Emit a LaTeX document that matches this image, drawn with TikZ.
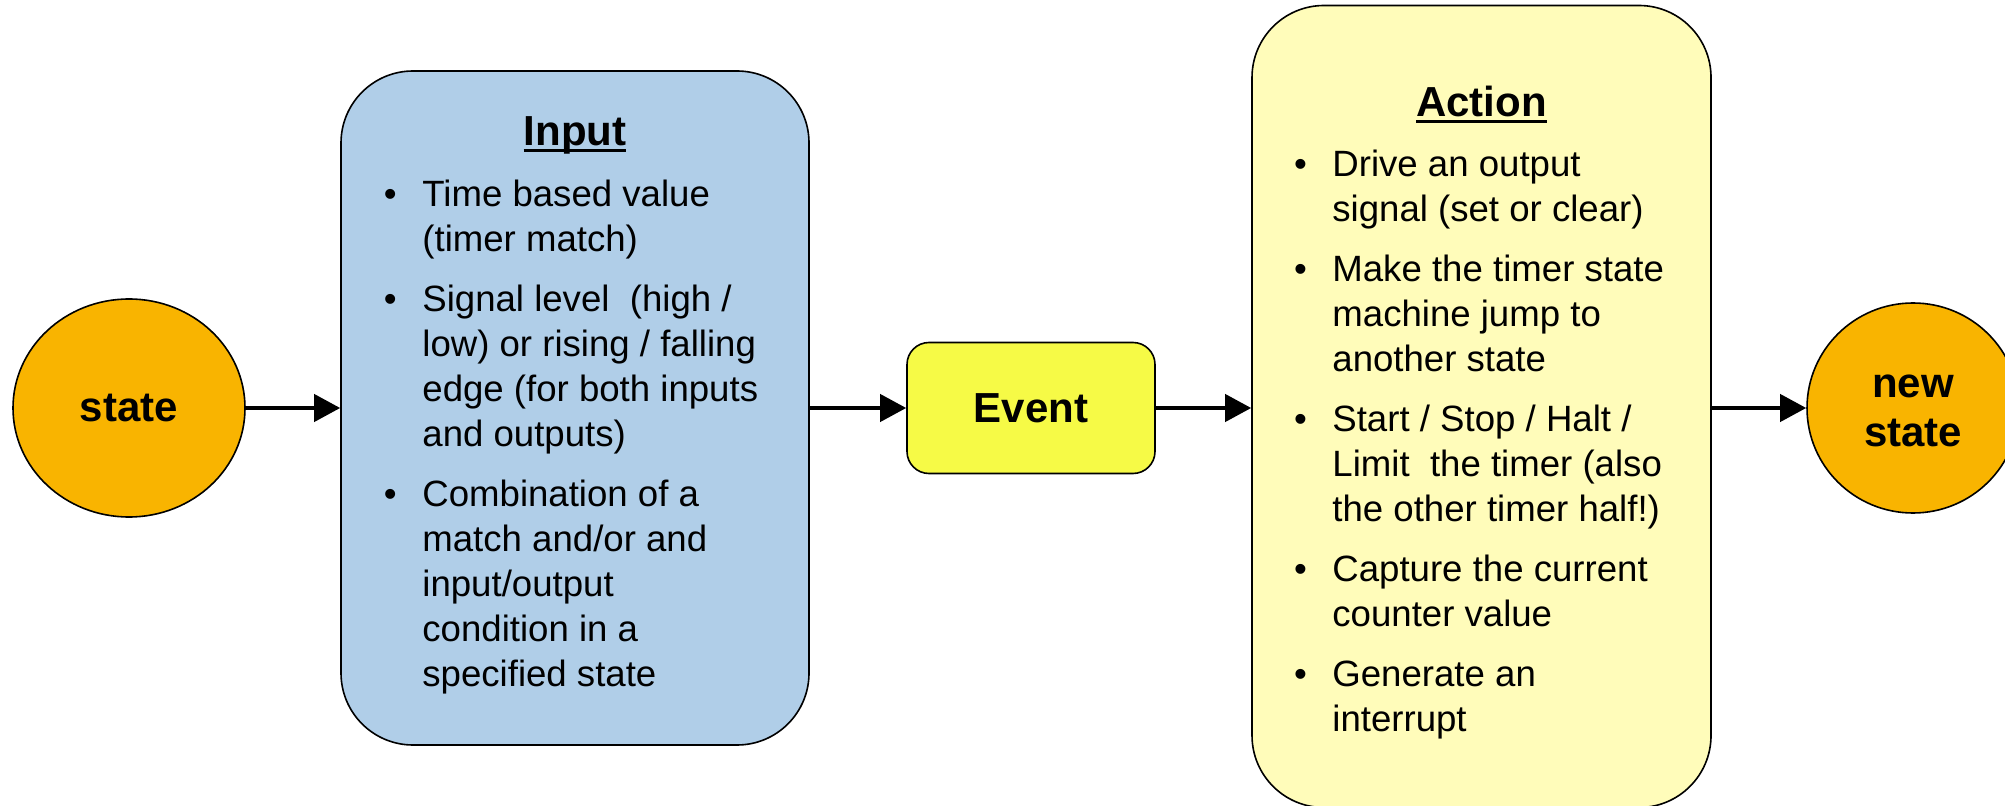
\documentclass[tikz,border=0pt]{standalone}
\usepackage{fontspec}
\setmainfont{Liberation Sans}
\usetikzlibrary{arrows.meta,shapes.geometric}
\definecolor{stateorange}{RGB}{249,180,0}
\definecolor{inblue}{RGB}{176,206,232}
\definecolor{evyellow}{RGB}{246,250,70}
\definecolor{actyellow}{RGB}{255,252,186}
\newcommand\myul[1]{\setbox0=\hbox{#1}\rlap{\copy0}\rule[-3.1pt]{\wd0}{1.5pt}}
\newcommand\bitem[1]{\hbox{\llap{\textbullet\hspace{12.8pt}}#1}}
\newcommand\cont[1]{\hbox{#1}}
\newcommand\bgap{\vskip7.5pt}
\newcommand\bodyfont{\fontsize{18.3}{22.5}\selectfont}
\newcommand\labfont{\fontsize{21}{24.5}\selectfont\bfseries}
\begin{document}
\begin{tikzpicture}[x=0.5pt,y=-0.5pt,
  stateshape/.style={ellipse, draw=black, line width=0.8pt, fill=stateorange, inner sep=0, font=\labfont, align=center},
  bigbox/.style={rectangle, draw=black, line width=0.8pt, rounded corners=36pt, inner sep=0},
  evbox/.style={rectangle, draw=black, line width=0.8pt, rounded corners=11pt, fill=evyellow, inner sep=0, font=\labfont},
  conn/.style={line width=2pt, -{Triangle[length=13pt,width=13.5pt]}},
  listtext/.style={anchor=base west, inner sep=0, font=\bodyfont},
  titletext/.style={anchor=base, inner sep=0, font=\labfont}]
\useasboundingbox (0,0) rectangle (2005,806);
\fill[white] (0,0) rectangle (2005,806);

\node[stateshape, minimum width=116pt, minimum height=109pt] (state) at (129,408) {state};
\node[bigbox, fill=inblue, minimum width=234pt, minimum height=337pt] (input) at (575,408) {};
\node[evbox, minimum width=124pt, minimum height=65.5pt] (event) at (1031,408) {Event};
\node[bigbox, fill=actyellow, minimum width=229.5pt, minimum height=401pt] (action) at (1481.5,406.5) {};
\node[stateshape, minimum width=106pt, minimum height=105pt] (newstate) at (1913,408) {\vphantom{N}new\\state};

\node[titletext] (intitle) at (575,146) {\myul{Input}};
\node[listtext] (inlist) at (422,207) {\vtop{\bodyfont\baselineskip=22.5pt\lineskiplimit=-100pt
  \bitem{Time based value}
  \cont{(timer match)}
  \bgap
  \bitem{Signal level\ \ (high /}
  \cont{low) or rising / falling}
  \cont{edge (for both inputs}
  \cont{and outputs)}
  \bgap
  \bitem{Combination of a}
  \cont{match and/or and}
  \cont{input/output}
  \cont{condition in a}
  \cont{specified state}}};

\node[titletext] (acttitle) at (1481.5,117) {\myul{Action}};
\node[listtext] (actlist) at (1332,177) {\vtop{\bodyfont\baselineskip=22.5pt\lineskiplimit=-100pt
  \bitem{Drive an output}
  \cont{signal (set or clear)}
  \bgap
  \bitem{Make the timer state}
  \cont{machine jump to}
  \cont{another state}
  \bgap
  \bitem{Start / Stop / Halt /}
  \cont{Limit\ \ the timer (also}
  \cont{the other timer half!)}
  \bgap
  \bitem{Capture the current}
  \cont{counter value}
  \bgap
  \bitem{Generate an}
  \cont{interrupt}}};

\draw[conn] (state) -- (input);
\draw[conn] (input) -- (event);
\draw[conn] (event) -- (state.east -| action.west);
\draw[conn] (action.east |- state.east) -- (newstate);
\end{tikzpicture}
\end{document}
